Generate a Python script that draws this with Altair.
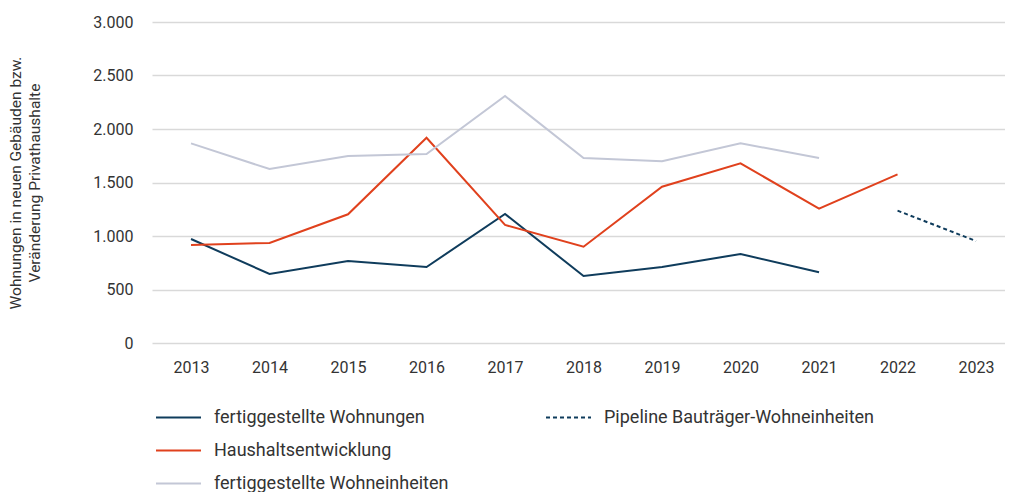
import altair as alt
import pandas as pd

years = ["2013", "2014", "2015", "2016", "2017", "2018", "2019", "2020", "2021", "2022", "2023"]
wohnungen = [972, 645, 766, 710, 1206, 626, 710, 832, 661]
haushalte = [916, 935, 1203, 1918, 1103, 900, 1461, 1679, 1255, 1576]
wohneinheiten = [1866, 1626, 1748, 1766, 2308, 1729, 1698, 1866, 1729]
pipeline_years = ["2022", "2023"]
pipeline = [1237, 953]

series_names = ["fertiggestellte Wohnungen", "Haushaltsentwicklung", "fertiggestellte Wohneinheiten"]
series_colors = ["#0f3c5c", "#e0411d", "#c3c7d6"]
pipeline_name = "Pipeline Bauträger-Wohneinheiten"

rows = []
for name, vals in zip(series_names, [wohnungen, haushalte, wohneinheiten]):
    for y, v in zip(years, vals):
        rows.append({"year": y, "value": v, "series": name})
df = pd.DataFrame(rows)
dfp = pd.DataFrame({"year": pipeline_years, "value": pipeline, "series": pipeline_name})

xenc = alt.X("year:O", scale=alt.Scale(type="point", domain=years, padding=0.433, align=0.574),
             axis=alt.Axis(title=None, labelAngle=0, domain=False, ticks=False, grid=False,
                           labelPadding=16, labelFontSize=16, labelColor="#333333", labelFont="Roboto"))
yenc = alt.Y("value:Q", scale=alt.Scale(domain=[0, 3000], nice=False),
             axis=alt.Axis(title=["Wohnungen in neuen Gebäuden bzw.", "Veränderung Privathaushalte"],
                           values=[0, 500, 1000, 1500, 2000, 2500, 3000],
                           labelExpr="replace(format(datum.value, ','), ',', '.')",
                           domain=False, ticks=False, grid=True, gridColor="#d9d9d9", gridWidth=1.5,
                           labelPadding=19, labelFontSize=16, labelColor="#333333", labelFont="Roboto",
                           titleFont="Roboto", titleFontSize=15.5, titleFontWeight="normal",
                           titleColor="#333333", titlePadding=50, titleLineHeight=19))

lines = alt.Chart(df).mark_line(strokeWidth=2).encode(
    x=xenc, y=yenc,
    color=alt.Color("series:N", scale=alt.Scale(domain=series_names, range=series_colors),
                    legend=alt.Legend(title=None, orient="none", legendX=3, legendY=372,
                                      direction="vertical")),
)

pipe = alt.Chart(dfp).mark_line(strokeWidth=2, color="#0f3c5c").encode(
    x=xenc, y=yenc,
    strokeDash=alt.StrokeDash("series:N", scale=alt.Scale(domain=[pipeline_name], range=[[4, 3]]),
                              legend=alt.Legend(title=None, orient="none", legendX=393, legendY=372,
                                                symbolStrokeColor="#0f3c5c")),
)

chart = alt.layer(lines, pipe).properties(
    width=853, height=321,
    autosize=alt.AutoSizeParams(type="none"),
    padding={"left": 144, "top": 14, "right": 0, "bottom": 150},
).configure_view(stroke=None).configure_legend(
    labelFont="Roboto", labelFontSize=18, labelColor="#333333", labelLimit=0,
    symbolType="stroke", symbolStrokeWidth=2, symbolSize=2025, rowPadding=-15, labelOffset=12,
)

chart.save("out.html", embed_options={"renderer": "svg", "actions": False})
